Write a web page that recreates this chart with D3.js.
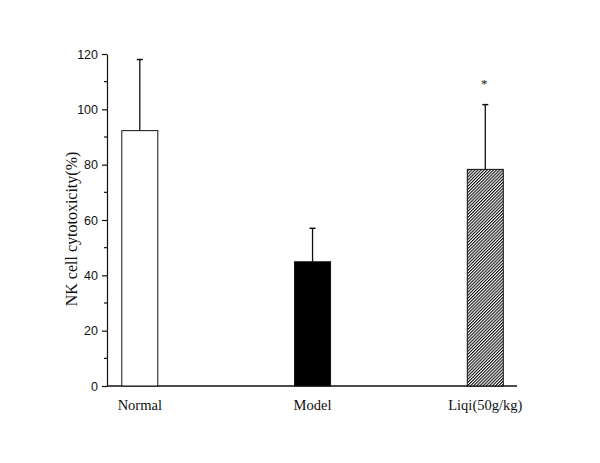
<!DOCTYPE html>
<html>
<head>
<meta charset="utf-8">
<script src="https://cdn.jsdelivr.net/npm/d3@7"></script>
<style>
  html, body { margin: 0; padding: 0; background: #fff; }
  svg { display: block; }
</style>
</head>
<body>
<svg id="chart" width="600" height="463"></svg>
<script>
const categories = ["Normal", "Model", "Liqi(50g/kg)"];
const means = [92.3, 44.9, 78.3];
const errors = [25.7, 12.1, 23.4];
const significance = ["", "", "*"];
const yTicks = [0, 20, 40, 60, 80, 100, 120];
const yMinorTicks = [10, 30, 50, 70, 90, 110];
const fills = ["white", "black", "hatch"];

const svg = d3.select("#chart");
const defs = svg.append("defs");
const pat = defs.append("pattern")
  .attr("id", "hatch")
  .attr("patternUnits", "userSpaceOnUse")
  .attr("width", 2.2).attr("height", 4)
  .attr("patternTransform", "rotate(45)");
pat.append("rect").attr("width", 2.2).attr("height", 4).attr("fill", "white");
pat.append("rect").attr("x", 0).attr("y", 0).attr("width", 1.1).attr("height", 4).attr("fill", "#111");

const x0 = 107, x1 = 517, yTop = 54, yBot = 386;
const y = d3.scaleLinear().domain([0, 120]).range([yBot, yTop]);
const x = d3.scalePoint().domain(categories).range([139.8, 485.3]);
const barW = 36;

// y axis
const yAxis = d3.axisLeft(y).tickValues(yTicks).tickSize(5).tickPadding(4).tickSizeOuter(0);
const gy = svg.append("g").attr("transform", `translate(${x0},0)`).call(yAxis);
gy.select(".domain").attr("stroke", "#111").attr("stroke-width", 1.2);
gy.selectAll(".tick line").attr("stroke", "#111").attr("stroke-width", 1.2);
gy.selectAll(".tick text").attr("font-family", "'Liberation Sans', Arial, sans-serif").attr("font-size", 12.5).attr("fill", "#111");
gy.selectAll(".minor").data(yMinorTicks).enter().append("line")
  .attr("class", "minor")
  .attr("x1", -3).attr("x2", 0)
  .attr("y1", d => y(d)).attr("y2", d => y(d))
  .attr("stroke", "#111").attr("stroke-width", 1.2);

// x axis line
svg.append("line").attr("x1", x0).attr("x2", x1).attr("y1", yBot).attr("y2", yBot)
  .attr("stroke", "#111").attr("stroke-width", 1.4);

// error bars (upper only)
const eb = svg.append("g");
categories.forEach((c, i) => {
  const cx = x(c);
  eb.append("line").attr("x1", cx).attr("x2", cx)
    .attr("y1", y(means[i])).attr("y2", y(means[i] + errors[i]))
    .attr("stroke", "#111").attr("stroke-width", 1.3);
  eb.append("line").attr("x1", cx - 3).attr("x2", cx + 3)
    .attr("y1", y(means[i] + errors[i])).attr("y2", y(means[i] + errors[i]))
    .attr("stroke", "#111").attr("stroke-width", 1.5);
});

// bars
svg.append("g").selectAll("rect").data(categories).enter().append("rect")
  .attr("x", d => x(d) - barW / 2)
  .attr("width", barW)
  .attr("y", (d, i) => y(means[i]))
  .attr("height", (d, i) => yBot - y(means[i]))
  .attr("fill", (d, i) => fills[i] === "hatch" ? "url(#hatch)" : fills[i])
  .attr("stroke", "#111")
  .attr("stroke-width", 1);

// significance marks
svg.append("g").selectAll("text").data(categories).enter().append("text")
  .attr("x", d => x(d) - 1)
  .attr("y", (d, i) => y(means[i] + errors[i]) - 17)
  .attr("text-anchor", "middle")
  .attr("font-family", "'Liberation Serif', 'Times New Roman', serif")
  .attr("font-size", 13)
  .attr("fill", "#111")
  .text((d, i) => significance[i]);

// category labels
svg.append("g").selectAll("text").data(categories).enter().append("text")
  .attr("x", d => x(d))
  .attr("y", 410)
  .attr("text-anchor", "middle")
  .attr("font-family", "'Liberation Serif', 'Times New Roman', serif")
  .attr("font-size", 14.5)
  .attr("fill", "#111")
  .text(d => d);

// y label
svg.append("text")
  .attr("transform", `translate(77,229) rotate(-90)`)
  .attr("text-anchor", "middle")
  .attr("font-family", "'Liberation Serif', 'Times New Roman', serif")
  .attr("font-size", 16)
  .attr("fill", "#111")
  .text("NK cell cytotoxicity(%)");
</script>
</body>
</html>
